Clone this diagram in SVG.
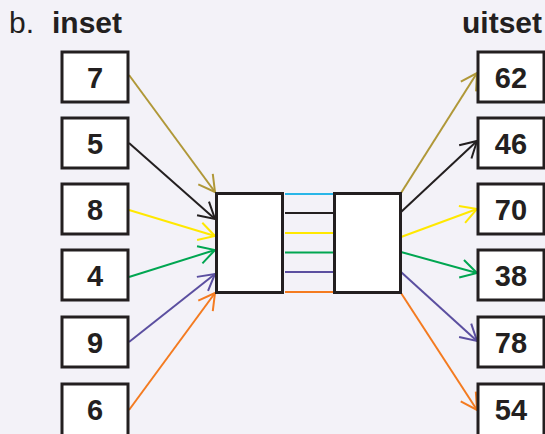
<svg xmlns="http://www.w3.org/2000/svg" width="545" height="434" viewBox="0 0 545 434">
<style>
.bx{fill:#fff;stroke:#231f20;stroke-width:3}
.num{font-family:"Liberation Sans",Arial,sans-serif;font-weight:bold;font-size:29px;fill:#231f20;text-anchor:middle}
.ttl{font-family:"Liberation Sans",Arial,sans-serif;font-size:30px;fill:#231f20}
.c line{stroke-width:2;fill:none}
</style>
<defs>
<marker id="m" viewBox="0 0 12 12" refX="11" refY="6" markerWidth="12" markerHeight="12" markerUnits="userSpaceOnUse" orient="auto" overflow="visible">
<path d="M-5,-3 L11,6 L-5,15" fill="none" stroke="context-stroke" stroke-width="2"/>
</marker>
</defs>
<rect width="545" height="434" fill="#f3f2f8"/>
<text class="ttl" x="9" y="33" font-weight="300">b.</text>
<text class="ttl" x="52" y="33" font-weight="bold">inset</text>
<text class="ttl" x="542" y="33" text-anchor="end" font-weight="bold">uitset</text>
<g class="c" id="connectors">
<line x1="129" y1="75" x2="215" y2="192" stroke="#b09838" marker-end="url(#m)"/>
<line x1="129" y1="143" x2="215" y2="219" stroke="#231f20" marker-end="url(#m)"/>
<line x1="129" y1="210" x2="215" y2="236" stroke="#ffe800" marker-end="url(#m)"/>
<line x1="129" y1="277" x2="215" y2="250" stroke="#00a651" marker-end="url(#m)"/>
<line x1="129" y1="342" x2="215" y2="274" stroke="#5b4fa0" marker-end="url(#m)"/>
<line x1="129" y1="410" x2="215" y2="293" stroke="#f47b20" marker-end="url(#m)"/>
<line x1="285" y1="194" x2="333" y2="194" stroke="#29b6e8" stroke-width="3"/>
<line x1="285" y1="213" x2="333" y2="213" stroke="#231f20" stroke-width="3"/>
<line x1="285" y1="233" x2="333" y2="233" stroke="#ffe800" stroke-width="3"/>
<line x1="285" y1="252.5" x2="333" y2="252.5" stroke="#00a651" stroke-width="3"/>
<line x1="285" y1="272" x2="333" y2="272" stroke="#5b4fa0" stroke-width="3"/>
<line x1="285" y1="292" x2="333" y2="292" stroke="#f47b20" stroke-width="3"/>
<line x1="401" y1="193" x2="477" y2="73" stroke="#b09838" marker-end="url(#m)"/>
<line x1="401" y1="212" x2="477" y2="141" stroke="#231f20" marker-end="url(#m)"/>
<line x1="401" y1="237" x2="477" y2="209" stroke="#ffe800" marker-end="url(#m)"/>
<line x1="401" y1="252" x2="477" y2="273" stroke="#00a651" marker-end="url(#m)"/>
<line x1="401" y1="272" x2="477" y2="341" stroke="#5b4fa0" marker-end="url(#m)"/>
<line x1="401" y1="293" x2="477" y2="410" stroke="#f47b20" marker-end="url(#m)"/>
</g>
<g id="mid-left"><rect class="bx" x="216.5" y="193.5" width="66" height="99"/></g>
<g id="mid-right"><rect class="bx" x="334.5" y="193.5" width="66" height="99"/></g>
<g id="in7"><rect class="bx" x="62" y="52" width="66" height="50"/><text class="num" x="95" y="88">7</text></g>
<g id="in5"><rect class="bx" x="62" y="118" width="66" height="50"/><text class="num" x="95" y="154">5</text></g>
<g id="in8"><rect class="bx" x="62" y="184" width="66" height="50"/><text class="num" x="95" y="220">8</text></g>
<g id="in4"><rect class="bx" x="62" y="250" width="66" height="50"/><text class="num" x="95" y="286">4</text></g>
<g id="in9"><rect class="bx" x="62" y="317" width="66" height="50"/><text class="num" x="95" y="353">9</text></g>
<g id="in6"><rect class="bx" x="62" y="384" width="66" height="52"/><text class="num" x="95" y="420">6</text></g>
<g id="out62"><rect class="bx" x="478" y="52" width="66" height="50"/><text class="num" x="511" y="88">62</text></g>
<g id="out46"><rect class="bx" x="478" y="118" width="66" height="50"/><text class="num" x="511" y="154">46</text></g>
<g id="out70"><rect class="bx" x="478" y="184" width="66" height="50"/><text class="num" x="511" y="220">70</text></g>
<g id="out38"><rect class="bx" x="478" y="250" width="66" height="50"/><text class="num" x="511" y="286">38</text></g>
<g id="out78"><rect class="bx" x="478" y="317" width="66" height="50"/><text class="num" x="511" y="353">78</text></g>
<g id="out54"><rect class="bx" x="478" y="384" width="66" height="52"/><text class="num" x="511" y="420">54</text></g>
</svg>
